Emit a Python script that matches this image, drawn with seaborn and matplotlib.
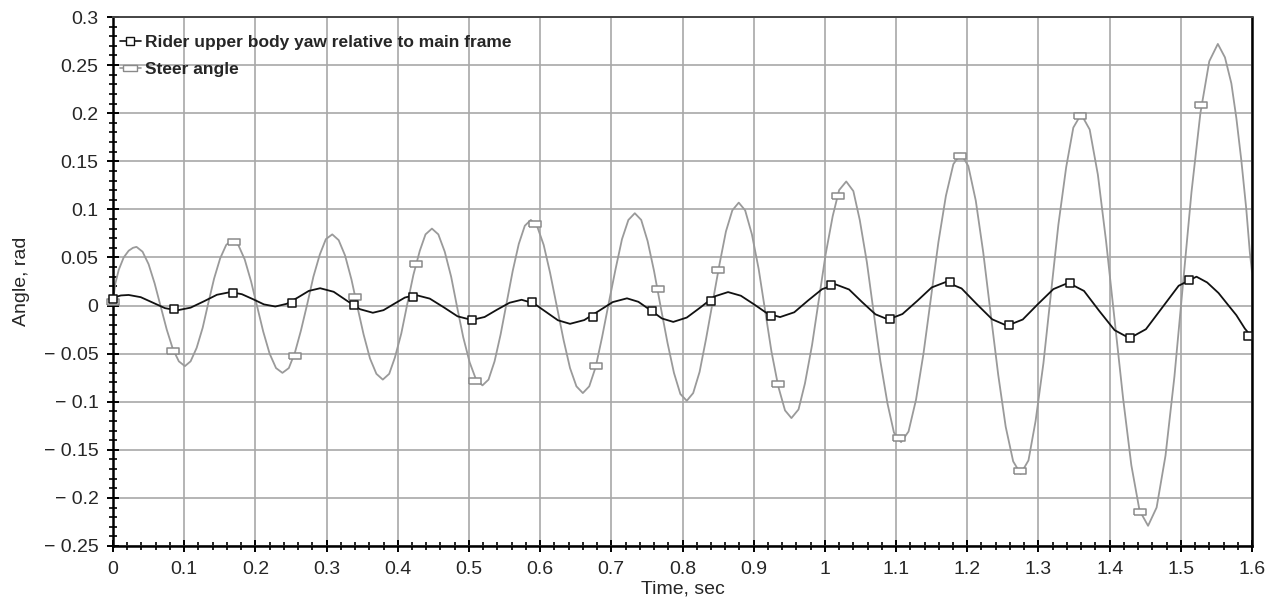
import matplotlib
matplotlib.use("Agg")
import matplotlib.pyplot as plt
from matplotlib.ticker import MultipleLocator, FuncFormatter
from matplotlib.lines import Line2D
import seaborn as sns

# Steer angle curve
steer_t = [0.000, 0.003, 0.008, 0.015, 0.022, 0.028, 0.033,
           0.0415, 0.050, 0.0585, 0.067, 0.0755, 0.084, 0.0925, 0.101,
           0.109, 0.1175, 0.126, 0.134, 0.142, 0.1505, 0.159, 0.167,
           0.176, 0.185, 0.194, 0.2025, 0.211, 0.220, 0.229, 0.238,
           0.247, 0.2555, 0.264, 0.273, 0.2815, 0.2905, 0.299, 0.308,
           0.317, 0.326, 0.335, 0.3435, 0.352, 0.361, 0.370, 0.379,
           0.388, 0.396, 0.405, 0.4135, 0.422, 0.431, 0.439, 0.448,
           0.457, 0.466, 0.475, 0.4835, 0.492, 0.501, 0.510, 0.519,
           0.5275, 0.536, 0.5445, 0.553, 0.5615, 0.570, 0.5785, 0.587,
           0.596, 0.605, 0.614, 0.6235, 0.633, 0.642, 0.651, 0.660,
           0.669, 0.678, 0.687, 0.6965, 0.706, 0.715, 0.724, 0.733,
           0.742, 0.751, 0.760, 0.7695, 0.779, 0.788, 0.797, 0.806,
           0.815, 0.824, 0.833, 0.8425, 0.852, 0.861, 0.870, 0.879,
           0.888, 0.8975, 0.907, 0.916, 0.925, 0.9345, 0.944, 0.953,
           0.963, 0.972, 0.982, 0.9915, 1.001, 1.011, 1.020, 1.030,
           1.040, 1.049, 1.059, 1.0685, 1.078, 1.088, 1.097, 1.107,
           1.1175, 1.128, 1.1385, 1.149, 1.1595, 1.170, 1.1805, 1.191,
           1.2015, 1.212, 1.2225, 1.233, 1.2435, 1.254, 1.2645, 1.275,
           1.286, 1.296, 1.307, 1.3175, 1.328, 1.339, 1.349, 1.360,
           1.372, 1.3835, 1.395, 1.407, 1.419, 1.4305, 1.442, 1.454,
           1.466, 1.4785, 1.491, 1.503, 1.515, 1.5275, 1.540, 1.552,
           1.562, 1.571, 1.578, 1.585, 1.592, 1.597, 1.600]
steer_v = [0.004, 0.022, 0.037, 0.050, 0.057, 0.060, 0.061,
           0.056, 0.043, 0.023, -0.001, -0.025, -0.045, -0.058, -0.063,
           -0.058, -0.044, -0.023, 0.003, 0.028, 0.049, 0.063, 0.068,
           0.063, 0.048, 0.025, -0.001, -0.027, -0.050, -0.065, -0.070,
           -0.065, -0.049, -0.026, 0.002, 0.030, 0.053, 0.069, 0.074,
           0.068, 0.052, 0.027, -0.002, -0.030, -0.055, -0.071, -0.077,
           -0.071, -0.054, -0.029, 0.002, 0.032, 0.057, 0.074, 0.080,
           0.074, 0.056, 0.030, -0.002, -0.033, -0.059, -0.077, -0.083,
           -0.077, -0.058, -0.030, 0.003, 0.036, 0.064, 0.083, 0.089,
           0.082, 0.063, 0.034, -0.001, -0.036, -0.065, -0.084, -0.091,
           -0.084, -0.064, -0.033, 0.003, 0.038, 0.069, 0.089, 0.096,
           0.089, 0.067, 0.036, -0.002, -0.039, -0.070, -0.092, -0.099,
           -0.091, -0.069, -0.035, 0.004, 0.043, 0.077, 0.099, 0.107,
           0.099, 0.074, 0.038, -0.005, -0.048, -0.084, -0.109, -0.117,
           -0.108, -0.081, -0.041, 0.006, 0.053, 0.093, 0.120, 0.129,
           0.119, 0.089, 0.045, -0.007, -0.058, -0.102, -0.132, -0.142,
           -0.131, -0.098, -0.050, 0.008, 0.066, 0.114, 0.147, 0.158,
           0.145, 0.109, 0.055, -0.009, -0.072, -0.126, -0.162, -0.175,
           -0.161, -0.120, -0.060, 0.012, 0.084, 0.144, 0.185, 0.199,
           0.183, 0.136, 0.067, -0.015, -0.097, -0.166, -0.213, -0.229,
           -0.210, -0.156, -0.074, 0.022, 0.118, 0.200, 0.254, 0.272,
           0.258, 0.231, 0.195, 0.151, 0.100, 0.055, 0.035]

# Rider upper body yaw curve
yaw_t = [0.000, 0.011, 0.022,
         0.039, 0.056, 0.073, 0.090,
         0.109, 0.128, 0.146, 0.165,
         0.181, 0.197, 0.212, 0.228,
         0.244, 0.260, 0.275, 0.291,
         0.310, 0.328, 0.347, 0.365,
         0.380, 0.395, 0.410, 0.425,
         0.445, 0.465, 0.484, 0.504,
         0.522, 0.539, 0.557, 0.574,
         0.591, 0.608, 0.625, 0.642,
         0.662, 0.682, 0.702, 0.722,
         0.738, 0.755, 0.771, 0.787,
         0.806, 0.826, 0.845, 0.864,
         0.882, 0.901, 0.919, 0.937,
         0.957, 0.976, 0.996, 1.015,
         1.034, 1.052, 1.071, 1.089,
         1.109, 1.130, 1.150, 1.170,
         1.192, 1.213, 1.235, 1.256,
         1.278, 1.299, 1.321, 1.342,
         1.364, 1.385, 1.407, 1.428,
         1.451, 1.474, 1.497, 1.522,
         1.537, 1.553, 1.566, 1.578, 1.590, 1.600]
yaw_v = [0.008, 0.0105, 0.011,
         0.0087, 0.003, -0.0027, -0.005,
         -0.0022, 0.0045, 0.0112, 0.014,
         0.0118, 0.0065, 0.0012, -0.001,
         0.0018, 0.0085, 0.0152, 0.018,
         0.0143, 0.0053, -0.0038, -0.0075,
         -0.0048, 0.0018, 0.0083, 0.011,
         0.0072, -0.002, -0.0112, -0.015,
         -0.0119, -0.0045, 0.0029, 0.006,
         0.0023, -0.0065, -0.0153, -0.019,
         -0.0151, -0.0058, 0.0036, 0.0075,
         0.0039, -0.0048, -0.0134, -0.017,
         -0.0125, -0.0015, 0.0095, 0.014,
         0.0102, 0.001, -0.0082, -0.012,
         -0.007, 0.005, 0.017, 0.022,
         0.0167, 0.0038, -0.0091, -0.0145,
         -0.0088, 0.005, 0.0188, 0.0245,
         0.0178, 0.0018, -0.0143, -0.021,
         -0.0145, 0.0013, 0.0171, 0.0236,
         0.0152, -0.0052, -0.0256, -0.034,
         -0.0246, -0.002, 0.0206, 0.030,
         0.024, 0.013, 0.001, -0.010, -0.024, -0.033]

# marker positions
steer_mark_t = [0.000, 0.084, 0.170, 0.256, 0.340, 0.426, 0.508, 0.593, 0.679, 0.765,
                0.850, 0.934, 1.019, 1.104, 1.190, 1.274, 1.358, 1.443, 1.529]
steer_mark_v = [0.004, -0.047, 0.066, -0.052, 0.009, 0.043, -0.078, 0.085, -0.063, 0.017,
                0.037, -0.082, 0.114, -0.138, 0.155, -0.172, 0.197, -0.215, 0.209]
yaw_mark_t = [0.000, 0.086, 0.169, 0.252, 0.338, 0.421, 0.505, 0.588, 0.674, 0.757,
              0.840, 0.924, 1.009, 1.091, 1.176, 1.259, 1.344, 1.428, 1.511, 1.595]
yaw_mark_v = [0.007, -0.004, 0.013, 0.003, 0.001, 0.009, -0.015, 0.004, -0.012, -0.006,
              0.005, -0.011, 0.021, -0.014, 0.024, -0.020, 0.023, -0.034, 0.027, -0.032]

labels = ["Rider upper body yaw relative to main frame", "Steer angle"]

sns.set_style("ticks")
plt.rcParams['font.family'] = ['Liberation Sans', 'DejaVu Sans']

steer_col = '#9a9a9a'
yaw_col = '#111111'
rect = [(-1, -0.5), (1, -0.5), (1, 0.5), (-1, 0.5), (-1, -0.5)]

fig = plt.figure(figsize=(12.83, 6.05), dpi=100)
ax = fig.add_axes([113 / 1283, 59 / 605, 1139 / 1283, 529 / 605])

sns.lineplot(x=steer_t, y=steer_v, estimator=None, sort=False, color=steer_col, lw=1.3, ax=ax)
sns.lineplot(x=yaw_t, y=yaw_v, estimator=None, sort=False, color=yaw_col, lw=1.3, ax=ax)
sns.scatterplot(x=steer_mark_t, y=steer_mark_v, marker=rect, s=85, facecolor='white',
                edgecolor='#8a8a8a', linewidth=1.1, ax=ax, zorder=4, clip_on=False)
sns.scatterplot(x=yaw_mark_t, y=yaw_mark_v, marker='s', s=30, facecolor='white',
                edgecolor=yaw_col, linewidth=1.1, ax=ax, zorder=5, clip_on=False)

ax.set_xlim(0, 1.6)
ax.set_ylim(-0.25, 0.3)
ax.xaxis.set_major_locator(MultipleLocator(0.1))
ax.xaxis.set_minor_locator(MultipleLocator(0.02))
ax.yaxis.set_major_locator(MultipleLocator(0.05))
ax.yaxis.set_minor_locator(MultipleLocator(0.01))
fmt = FuncFormatter(lambda v, p: ('%g' % round(v, 3)).replace('-', '\u2212 '))
ax.xaxis.set_major_formatter(fmt)
ax.yaxis.set_major_formatter(fmt)

ax.grid(True, which='major', color='#a8a8a8', lw=1.2)
ax.set_axisbelow(True)
ax.tick_params(which='major', direction='inout', length=9, width=1.4, color='black',
               labelsize=14)
ax.tick_params(axis='y', which='major', pad=6)
ax.tick_params(axis='x', which='major', pad=6)
ax.tick_params(which='minor', direction='inout', length=6, width=1.2, color='black')
for s in ['left', 'bottom', 'right']:
    ax.spines[s].set_color('black')
    ax.spines[s].set_linewidth(1.8)
ax.spines['top'].set_color('#444444')
ax.spines['top'].set_linewidth(1.4)

ax.set_xlabel("Time, sec", fontsize=14, labelpad=2)
ax.set_ylabel("Angle, rad", fontsize=14, labelpad=10)

handles = [
    Line2D([], [], color=yaw_col, lw=1.2, marker='s', markersize=5.5,
           markerfacecolor='white', markeredgecolor=yaw_col),
    Line2D([], [], color=steer_col, lw=1.2, marker=rect, markersize=10,
           markerfacecolor='white', markeredgecolor='#8a8a8a'),
]
ax.legend(handles, labels, loc='upper left', bbox_to_anchor=(0.0, 0.98), frameon=False,
          prop={'weight': 'bold', 'size': 12.5}, handlelength=1.2, handletextpad=0.25,
          labelspacing=0.7, borderaxespad=0.2, borderpad=0.2)

fig.savefig("out.png", dpi=100)
